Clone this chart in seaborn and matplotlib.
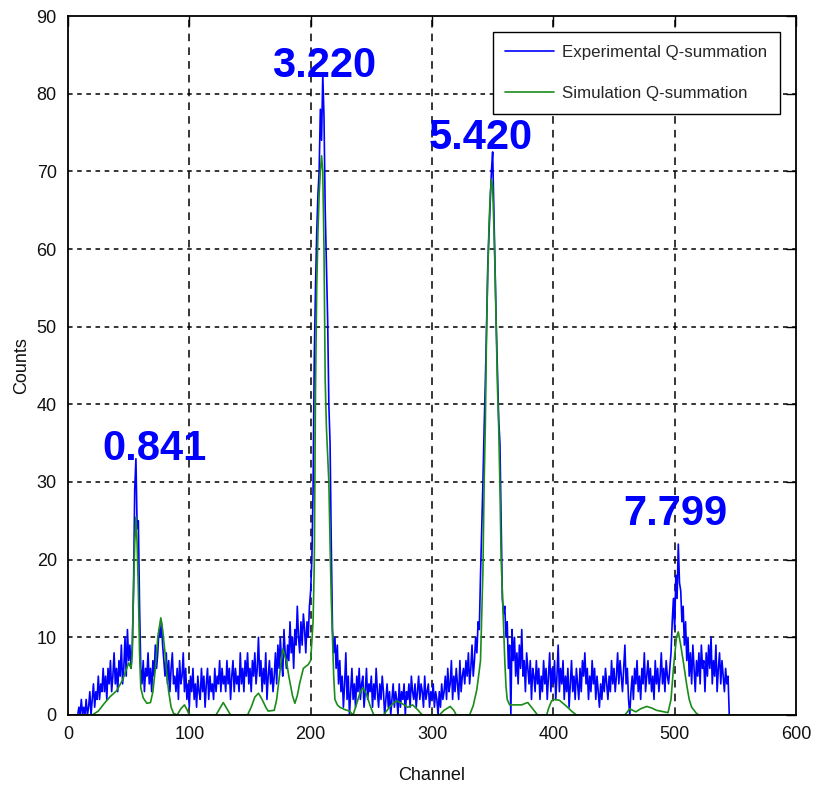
import matplotlib
matplotlib.use("Agg")
import matplotlib.pyplot as plt
import seaborn as sns
import numpy as np
import pandas as pd

# Experimental Q-summation spectrum, one value per channel (0..545)
exp_counts = [
    0, 0, 0, 0, 0, 0, 0, 0, 0, 1,
    0, 2, 0, 1, 0, 2, 0, 1, 3, 0,
    2, 4, 1, 3, 2, 5, 2, 4, 3, 6,
    3, 5, 2, 6, 4, 7, 3, 5, 8, 4,
    6, 3, 7, 5, 9, 4, 6, 10, 5, 11,
    7, 9, 6, 9, 16, 29, 33, 24, 25, 14,
    6, 4, 7, 3, 6, 5, 8, 4, 6, 3,
    7, 5, 9, 6, 8, 11, 10, 12, 9, 7,
    5, 8, 4, 7, 3, 6, 8, 4, 5, 3,
    6, 2, 7, 4, 5, 8, 3, 6, 2, 4,
    1, 5, 3, 6, 2, 4, 1, 5, 3, 2,
    6, 3, 5, 1, 4, 6, 2, 5, 3, 4,
    2, 6, 3, 5, 4, 7, 3, 6, 4, 5,
    3, 7, 4, 6, 2, 5, 7, 3, 6, 4,
    5, 3, 8, 4, 6, 3, 7, 5, 8, 4,
    6, 3, 7, 5, 8, 4, 6, 10, 5, 7,
    3, 6, 4, 8, 2, 5, 7, 4, 6, 3,
    5, 8, 4, 9, 6, 10, 7, 5, 11, 8,
    6, 9, 7, 12, 8, 10, 6, 11, 9, 14,
    10, 8, 12, 9, 13, 11, 8, 12, 10, 14,
    16, 20, 29, 46, 55, 62, 67, 70, 78, 74,
    82.5, 77, 65, 58, 51, 40, 35, 22, 11, 8,
    10, 6, 9, 4, 7, 3, 5, 1, 4, 8,
    2, 5, 0, 3, 6, 2, 4, 1, 5, 3,
    6, 2, 4, 5, 1, 3, 6, 2, 4, 3,
    5, 1, 4, 2, 6, 3, 1, 4, 2, 5,
    3, 0, 2, 4, 1, 3, 0, 2, 4, 1,
    3, 2, 0, 4, 1, 3, 2, 4, 0, 3,
    2, 4, 1, 5, 3, 2, 4, 1, 3, 5,
    2, 4, 3, 1, 5, 2, 3, 4, 1, 3,
    2, 4, 1, 3, 2, 0, 3, 1, 4, 2,
    3, 5, 2, 6, 3, 4, 7, 2, 5, 3,
    6, 4, 2, 7, 3, 5, 6, 4, 7, 5,
    8, 4, 6, 9, 5, 7, 10, 8, 12, 11,
    18, 24, 30, 37, 43, 50, 58, 62, 66, 70,
    72.5, 65, 58, 50, 44, 38, 35, 25, 15, 13,
    14, 10, 12, 6, 9, 0, 11, 7, 10, 5,
    8, 4, 9, 6, 11, 5, 7, 3, 8, 6,
    4, 7, 2, 6, 5, 3, 7, 4, 6, 2,
    5, 3, 7, 4, 6, 2, 5, 8, 3, 6,
    4, 7, 2, 5, 9, 3, 6, 4, 7, 2,
    5, 3, 6, 1, 4, 7, 3, 5, 2, 6,
    4, 2, 6, 3, 7, 5, 8, 4, 6, 2,
    5, 3, 7, 4, 6, 2, 5, 3, 1, 4,
    2, 5, 3, 6, 4, 2, 5, 3, 7, 4,
    6, 3, 5, 8, 4, 7, 5, 3, 6, 9,
    4, 6, 2, 0, 3, 5, 2, 6, 4, 7,
    3, 5, 2, 6, 4, 8, 3, 5, 7, 4,
    6, 3, 5, 2, 7, 4, 6, 3, 5, 8,
    4, 6, 3, 7, 5, 4, 6, 8, 12, 15,
    11, 18, 15, 22, 17, 16, 12, 14, 9, 12,
    7, 10, 5, 8, 4, 9, 6, 3, 7, 5,
    8, 4, 9, 6, 7, 3, 8, 5, 9, 6,
    10, 4, 7, 5, 9, 3, 6, 8, 4, 7,
    5, 3, 6, 4, 5, 0,
]
exp_channels = list(range(len(exp_counts)))

# Simulated Q-summation spectrum (channel, counts)
sim_channels = [
    0, 20, 25, 30, 35, 40, 45, 50, 52, 53, 54, 55, 56, 57, 58, 59, 60, 62, 65, 68,
    70, 72, 74, 76.5, 78, 80, 81, 83, 85, 87, 90, 93, 96, 98, 100, 122, 125, 128, 131, 134,
    148, 151, 154, 157, 160, 163, 165, 170, 172, 175, 177, 180, 182, 185, 187, 189, 191, 194, 198, 200,
    202, 203, 204, 205, 206, 207, 208, 209, 210, 211, 212, 213, 215, 216, 217, 218, 219, 220, 222, 224,
    228, 232, 235, 238, 241, 243, 246, 249, 252, 260, 264, 268, 271, 275, 280, 284, 288, 292, 306, 310,
    315, 318, 320, 331, 334, 337, 340, 342, 343, 344, 345, 346, 347, 348, 349, 350, 351, 352, 353, 354,
    355, 356, 357, 358.5, 360, 361, 362, 364, 374, 377, 379, 381, 383, 387, 394.5, 396, 398.5, 400, 405, 408,
    411, 415, 419, 459, 463, 468, 472, 477, 481, 485, 494.5, 497, 499, 501.5, 503, 505, 507, 510, 512, 514,
    518, 520, 600,
]
sim_counts = [
    0, 0, 0.5, 1.5, 2.4, 3.1, 4.5, 6.7, 6, 8, 16, 22, 25.5, 22, 16, 8, 3.5, 2.2, 1.5, 1.6,
    3, 6, 10, 12.5, 11, 8, 6, 3, 1, 0.2, 0, 0.8, 1.3, 0.7, 0, 0, 0.8, 1.6, 0.8, 0,
    0, 1, 2.3, 2.8, 2, 1, 0.5, 0.6, 2, 6, 8.5, 7, 5, 2.5, 1.5, 2.5, 4.1, 6, 6.5, 7,
    12, 19.5, 42, 55, 62, 67, 70, 72, 70, 60, 43, 37, 30, 22, 15, 10, 5, 2, 1.3, 1,
    0.7, 0.5, 0, 1.5, 3, 3.5, 2.7, 1.2, 0, 0, 0.8, 1.5, 1.8, 1.5, 1, 1.3, 0.7, 0, 0, 0.6,
    1.1, 0.6, 0, 0, 1.2, 3.3, 7, 18.7, 30, 37.6, 49.6, 57, 63, 67, 69, 68, 63, 57, 49.6, 42,
    37, 29.5, 20, 13.7, 7, 3.7, 2, 1.3, 1.3, 1.5, 1.6, 1.2, 0.8, 0, 0, 0.8, 1.8, 2, 1.9, 1.5,
    1.1, 0.5, 0, 0, 0.8, 0.4, 0.8, 1.1, 0.9, 0.6, 0.3, 2, 6, 10, 10.7, 9, 7, 3.8, 2, 1,
    0.2, 0, 0,
]

# Peak energy annotations (text, channel, counts)
peak_labels = ["0.841", "3.220", "5.420", "7.799"]
peak_label_x = [71.5, 211.5, 340.5, 500.5]
peak_label_y = [34.2, 83.6, 74.3, 25.9]

x_ticks = [0, 100, 200, 300, 400, 500, 600]
y_ticks = [0, 10, 20, 30, 40, 50, 60, 70, 80, 90]

sns.set_style("white")
plt.rcParams["font.family"] = ["Liberation Sans", "DejaVu Sans"]

exp_df = pd.DataFrame({"Channel": exp_channels, "Counts": exp_counts})
sim_df = pd.DataFrame({"Channel": sim_channels, "Counts": sim_counts})

fig = plt.figure(figsize=(8.19, 7.93), dpi=100)
ax = fig.add_axes([0.0830, 0.0984, 0.8889, 0.8814])

sns.lineplot(data=exp_df, x="Channel", y="Counts", ax=ax, color="#0000ff",
             linewidth=1.2, estimator=None, label="Experimental Q-summation")
sns.lineplot(data=sim_df, x="Channel", y="Counts", ax=ax, color="#1a8c1a",
             linewidth=1.2, estimator=None, label="Simulation Q-summation")

ax.set_xlim(0, 600)
ax.set_ylim(0, 90)
ax.set_xticks(x_ticks)
ax.set_yticks(y_ticks)
ax.tick_params(axis="both", direction="in", length=7, width=1, color="black",
               labelsize=13, labelcolor="#111111", top=True, right=True, pad=8)

# dashed grid in the MATLAB manner
for xv in x_ticks[1:-1]:
    ax.axvline(xv, color="black", linewidth=1.1, linestyle=(0, (5, 4)), zorder=0.5)
for yv in y_ticks[1:-1]:
    ax.axhline(yv, color="black", linewidth=1.1, linestyle=(0, (3, 3)), zorder=0.5)

for spine in ax.spines.values():
    spine.set_visible(True)
    spine.set_color("black")
    spine.set_linewidth(1.3)

ax.set_xlabel("Channel", fontsize=13, color="#111111", labelpad=17)
ax.set_ylabel("Counts", fontsize=13, color="#111111", labelpad=5)

for txt, xv, yv in zip(peak_labels, peak_label_x, peak_label_y):
    ax.text(xv, yv, txt, color="#0000ff", fontsize=30, fontweight="bold",
            family="Liberation Sans", ha="center", va="center", zorder=5)

leg = ax.legend(loc="upper right", fontsize=12.2, frameon=True, fancybox=False,
                borderaxespad=0.95, handlelength=2.9, handletextpad=0.45,
                borderpad=0.75, labelspacing=1.55)
leg.get_frame().set_edgecolor("black")
leg.get_frame().set_linewidth(1.0)
leg.get_frame().set_alpha(1.0)

fig.savefig("out.png", dpi=100, facecolor="white")
